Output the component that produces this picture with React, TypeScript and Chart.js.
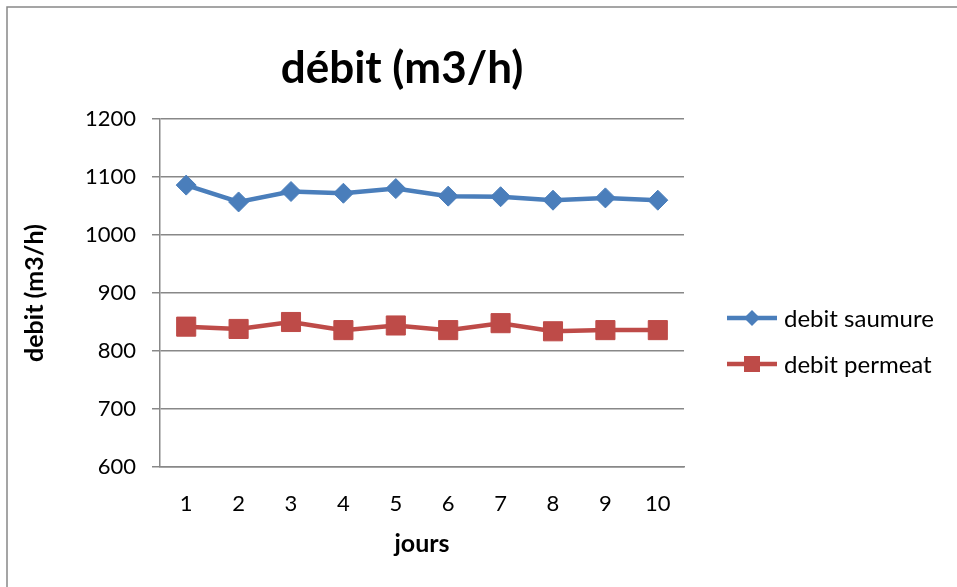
import React, { useEffect, useRef } from "react";
import { Chart, registerables } from "chart.js";

Chart.register(...registerables);

const categories = ["1", "2", "3", "4", "5", "6", "7", "8", "9", "10"];
const saumure = [1086, 1057, 1075, 1072, 1080, 1067, 1066, 1060, 1064, 1060];
const permeat = [842, 838, 850, 836, 844, 836, 848, 834, 836, 836];
const seriesNames = ["debit saumure", "debit permeat"];
const chartTitle = "débit (m3/h)";
const xTitle = "jours";
const yTitle = "debit (m3/h)";
const yMin = 600;
const yMax = 1200;
const yStep = 100;

const FONT = "Lato, 'Open Sans', sans-serif";
const BLUE = "#4A7EBB";
const RED = "#BE4B48";
const GRID = "#888888";

export default function App() {
  const ref = useRef<HTMLCanvasElement>(null);

  useEffect(() => {
    document.body.style.margin = "0";
    const canvas = ref.current!;
    const framePlugin = {
      id: "frameAndLegend",
      afterDraw(chart: any) {
        const ctx = chart.ctx;
        ctx.save();
        // frame
        ctx.strokeStyle = GRID;
        ctx.lineWidth = 1.5;
        ctx.beginPath();
        ctx.moveTo(7, 600);
        ctx.lineTo(7, 7);
        ctx.lineTo(960, 7);
        ctx.stroke();
        // title
        ctx.fillStyle = "#000";
        ctx.font = `bold 44px ${FONT}`;
        ctx.textAlign = "center";
        ctx.textBaseline = "middle";
        ctx.fillText(chartTitle, 402, 69);
        // legend
        const ys = [318, 364];
        chart.data.datasets.forEach((ds: any, i: number) => {
          const y = ys[i];
          ctx.strokeStyle = ds.borderColor;
          ctx.lineWidth = 4.5;
          ctx.beginPath();
          ctx.moveTo(727, y);
          ctx.lineTo(777, y);
          ctx.stroke();
          ctx.fillStyle = ds.borderColor;
          ctx.beginPath();
          if (ds.pointStyle === "rectRot") {
            const r = 8;
            ctx.moveTo(752 - r, y);
            ctx.lineTo(752, y - r);
            ctx.lineTo(752 + r, y);
            ctx.lineTo(752, y + r);
            ctx.closePath();
          } else {
            ctx.rect(752 - 8, y - 8, 16, 16);
          }
          ctx.fill();
          ctx.fillStyle = "#000";
          ctx.font = `24px ${FONT}`;
          ctx.textAlign = "left";
          ctx.textBaseline = "middle";
          ctx.fillText(ds.label, 784, y + 1);
        });
        ctx.restore();
      },
    };

    const chart = new Chart(canvas, {
      type: "line",
      data: {
        labels: categories,
        datasets: [
          {
            label: seriesNames[0],
            data: saumure,
            borderColor: BLUE,
            backgroundColor: BLUE,
            borderWidth: 4.5,
            pointStyle: "rectRot",
            pointRadius: 10,
            pointBorderWidth: 1,
            pointBorderColor: BLUE,
            pointBackgroundColor: BLUE,
            tension: 0,
          },
          {
            label: seriesNames[1],
            data: permeat,
            borderColor: RED,
            backgroundColor: RED,
            borderWidth: 4.5,
            pointStyle: "rect",
            pointRadius: 13.5,
            pointBorderWidth: 1,
            pointBorderColor: RED,
            pointBackgroundColor: RED,
            tension: 0,
          },
        ],
      },
      options: {
        responsive: false,
        animation: false,
        layout: { padding: { top: 119, right: 957 - 684, left: 0, bottom: 0 } },
        plugins: {
          legend: { display: false },
          title: { display: false },
          tooltip: { enabled: false },
        },
        scales: {
          x: {
            type: "category",
            offset: true,
            grid: { display: false, drawTicks: false },
            border: { display: true, color: GRID, width: 1.5 },
            ticks: { color: "#000", font: { family: FONT, size: 22 }, padding: 24 },
            title: {
              display: true,
              text: xTitle,
              color: "#000",
              font: { family: FONT, size: 25, weight: "bold" },
              padding: { top: 0, bottom: 28 },
            },
            afterFit(scale: any) {
              scale.height = 587 - 467;
            },
          },
          y: {
            min: yMin,
            max: yMax,
            grid: { color: GRID, lineWidth: 1.5, tickLength: 8, drawTicks: true },
            border: { display: true, color: GRID, width: 1.5 },
            ticks: {
              stepSize: yStep,
              color: "#000",
              font: { family: FONT, size: 22 },
              padding: 16,
              callback: (v: any) => String(v),
            },
            title: {
              display: true,
              text: yTitle,
              color: "#000",
              font: { family: FONT, size: 25, weight: "bold" },
              padding: { top: 20, bottom: 0 },
            },
            afterFit(scale: any) {
              scale.width = 160;
            },
          },
        },
      },
      plugins: [framePlugin],
    });
    return () => chart.destroy();
  }, []);

  return (
    <div style={{ width: 957, height: 587, background: "#fff" }}>
      <canvas ref={ref} width={957} height={587} style={{ display: "block" }} />
    </div>
  );
}
